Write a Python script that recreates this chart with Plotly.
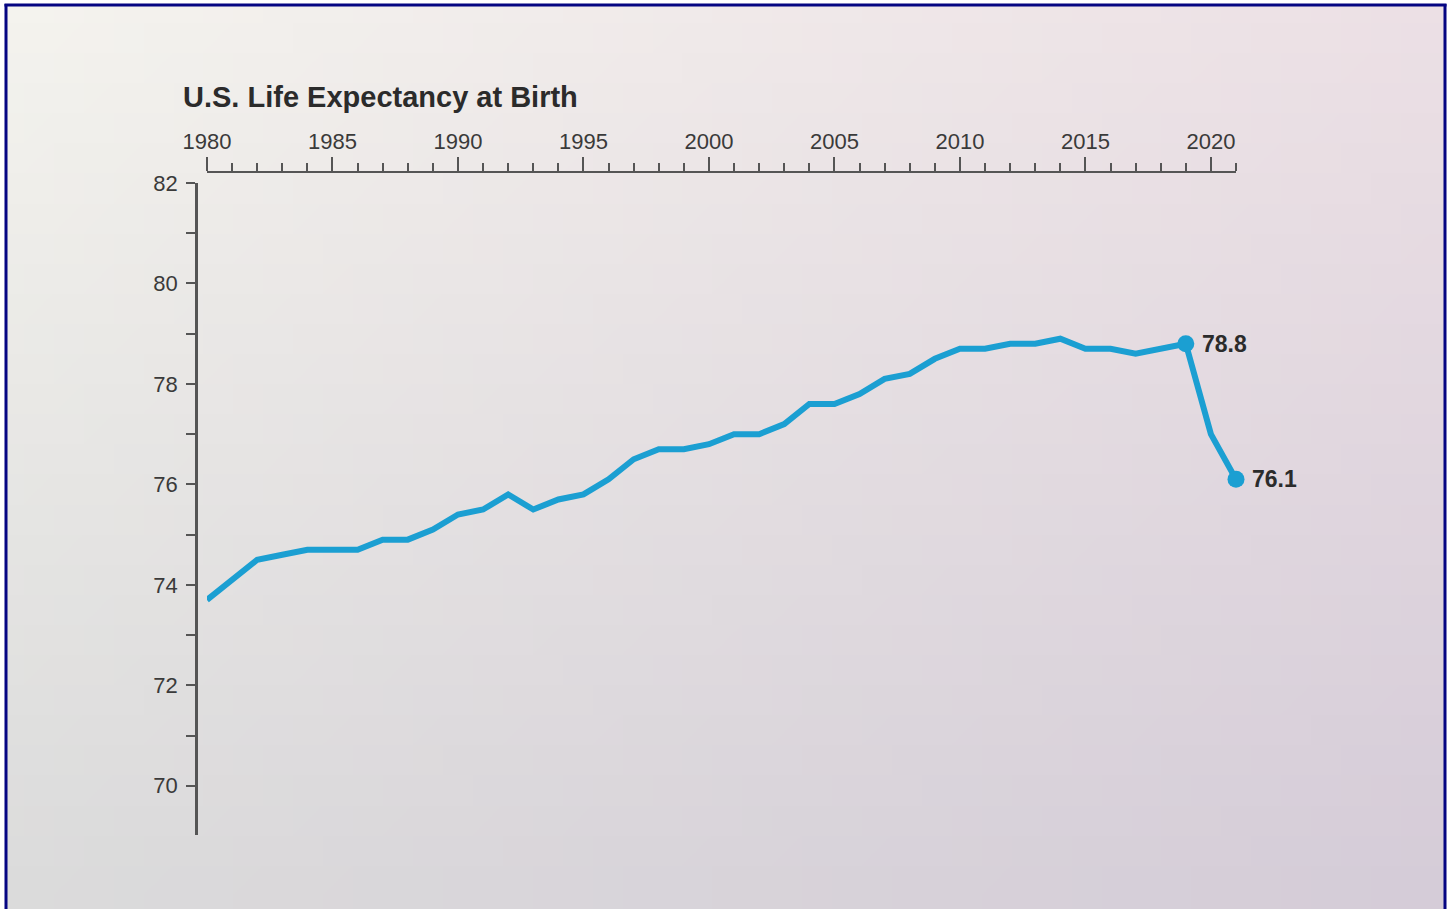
import base64
import struct
import zlib

import plotly.graph_objects as go

# U.S. life expectancy at birth, 1980-2021 (years)
years = list(range(1980, 2022))
life_expectancy = [
    73.7, 74.1, 74.5, 74.6, 74.7, 74.7, 74.7, 74.9, 74.9, 75.1,
    75.4, 75.5, 75.8, 75.5, 75.7, 75.8, 76.1, 76.5, 76.7, 76.7,
    76.8, 77.0, 77.0, 77.2, 77.6, 77.6, 77.8, 78.1, 78.2, 78.5,
    78.7, 78.7, 78.8, 78.8, 78.9, 78.7, 78.7, 78.6, 78.7, 78.8,
    77.0, 76.1,
]
highlight_years = [2019, 2021]
x_label_years = [1980, 1985, 1990, 1995, 2000, 2005, 2010, 2015, 2020]
y_label_values = [70, 72, 74, 76, 78, 80, 82]

W, H = 1450, 909
LINE_COLOR = "#1b9fd2"
AXIS_COLOR = "#555555"
TEXT_COLOR = "#3a3a3a"
BORDER_COLOR = "#050582"
FONT = "Liberation Sans, Arial, Helvetica, sans-serif"


def gradient_png(w, h, tl, tr, bl, br):
    """Small PNG with a bilinear blend between four corner colours."""
    rows = []
    for j in range(h):
        v = j / (h - 1)
        row = bytearray([0])
        for i in range(w):
            u = i / (w - 1)
            px = []
            for c in range(3):
                top = tl[c] * (1 - u) + tr[c] * u
                bot = bl[c] * (1 - u) + br[c] * u
                px.append(int(round(top * (1 - v) + bot * v)))
            row.extend(px)
        rows.append(bytes(row))
    raw = b"".join(rows)

    def chunk(tag, data):
        c = struct.pack(">I", len(data)) + tag + data
        return c + struct.pack(">I", zlib.crc32(tag + data) & 0xFFFFFFFF)

    png = b"\x89PNG\r\n\x1a\n"
    png += chunk(b"IHDR", struct.pack(">IIBBBBB", w, h, 8, 2, 0, 0, 0))
    png += chunk(b"IDAT", zlib.compress(raw, 9))
    png += chunk(b"IEND", b"")
    return "data:image/png;base64," + base64.b64encode(png).decode()


bg = gradient_png(
    48, 30,
    (244, 243, 238),  # top-left
    (236, 224, 229),  # top-right
    (219, 219, 219),  # bottom-left
    (213, 204, 216),  # bottom-right
)


def px_x(p):
    return p / W


def px_y(p):
    return 1 - p / H


fig = go.Figure()

fig.add_trace(go.Scatter(
    x=years, y=life_expectancy,
    mode="lines",
    line=dict(color=LINE_COLOR, width=6),
    cliponaxis=False,
    hoverinfo="x+y",
))

hx = list(highlight_years)
hy = [life_expectancy[years.index(y)] for y in highlight_years]
fig.add_trace(go.Scatter(
    x=hx, y=hy,
    mode="markers",
    marker=dict(color=LINE_COLOR, size=17),
    cliponaxis=False,
    hoverinfo="x+y",
))

for xv, yv in zip(hx, hy):
    fig.add_annotation(
        x=xv, y=yv, text=f"{yv:.1f}",
        xanchor="left", yanchor="middle", xshift=14,
        showarrow=False,
        font=dict(family=FONT, size=23, color="#2b2b2b", weight="bold"),
    )

fig.update_layout(
    template="none",
    width=W, height=H,
    margin=dict(l=0, r=0, t=0, b=0, pad=0),
    paper_bgcolor="white",
    plot_bgcolor="rgba(0,0,0,0)",
    showlegend=False,
    font=dict(family=FONT, size=22, color=TEXT_COLOR),
    title=dict(
        text="<b>U.S. Life Expectancy at Birth</b>",
        x=px_x(183), xanchor="left", xref="paper",
        y=px_y(97), yanchor="middle", yref="paper",
        font=dict(family=FONT, size=29, color="#2b2b2b"),
        automargin=False,
    ),
    xaxis=dict(
        domain=[px_x(207), px_x(1236)],
        range=[1980, 2021],
        side="top",
        anchor="free",
        position=px_y(171.5),
        automargin=False,
        showgrid=False, zeroline=False,
        showline=True, linecolor=AXIS_COLOR, linewidth=2,
        ticks="outside", ticklen=14, tickwidth=2, tickcolor=AXIS_COLOR,
        tickmode="array", tickvals=x_label_years,
        ticktext=[str(v) for v in x_label_years],
        ticklabelstandoff=-1,
        minor=dict(ticks="outside", dtick=1, tick0=1980, ticklen=8,
                   tickwidth=2, tickcolor=AXIS_COLOR, showgrid=False),
        tickfont=dict(family=FONT, size=22, color=TEXT_COLOR),
    ),
    yaxis=dict(
        domain=[px_y(835), px_y(183)],
        range=[69.02, 82],
        anchor="free",
        position=px_x(196),
        automargin=False,
        showgrid=False, zeroline=False,
        showline=True, linecolor=AXIS_COLOR, linewidth=2.5,
        ticks="outside", ticklen=9, tickwidth=2, tickcolor=AXIS_COLOR,
        tickmode="array", tickvals=y_label_values,
        ticktext=[str(v) for v in y_label_values],
        ticklabelstandoff=4,
        minor=dict(ticks="outside", dtick=1, tick0=69, ticklen=9,
                   tickwidth=2, tickcolor=AXIS_COLOR, showgrid=False),
        tickfont=dict(family=FONT, size=22, color=TEXT_COLOR),
    ),
    images=[dict(
        source=bg, xref="paper", yref="paper",
        x=px_x(7), y=px_y(6), sizex=px_x(1437), sizey=1 - px_y(909 - 6),
        xanchor="left", yanchor="top", sizing="stretch", layer="below",
    )],
    shapes=[
        dict(type="line", xref="paper", yref="paper",
             x0=px_x(6), x1=px_x(6), y0=px_y(4), y1=0,
             line=dict(color=BORDER_COLOR, width=3)),
        dict(type="line", xref="paper", yref="paper",
             x0=px_x(4.5), x1=px_x(1446.5), y0=px_y(5), y1=px_y(5),
             line=dict(color=BORDER_COLOR, width=3)),
        dict(type="line", xref="paper", yref="paper",
             x0=px_x(1445), x1=px_x(1445), y0=px_y(4), y1=0,
             line=dict(color=BORDER_COLOR, width=3)),
    ],
)

fig.write_html("out.html")
